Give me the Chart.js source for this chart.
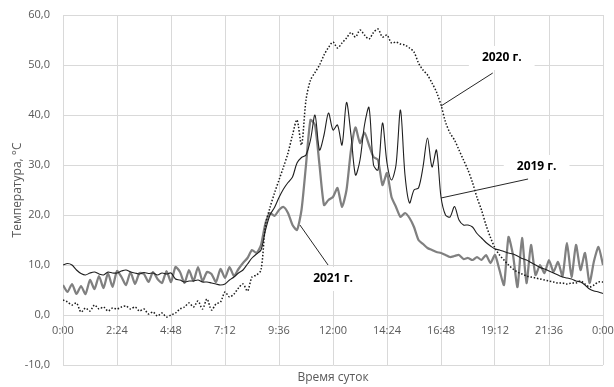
<!DOCTYPE html>
<html>
<head>
<meta charset="utf-8">
<script src="https://cdn.jsdelivr.net/npm/chart.js@4.4.1/dist/chart.umd.min.js"></script>
<style>
    html, body { margin: 0; padding: 0; background: #fff; }
</style>
</head>
<body>
<canvas id="temp-chart" width="614" height="387"></canvas>
<script>
// Time of day, hours (every 12 min)
var times = [];
for (var i = 0; i <= 120; i++) {
    times.push(Math.round(i * 2) / 10);
}

// Air temperature, °C
var t2019 = [
    10, 10.3, 10, 9, 8.3, 8, 8.4, 8.6, 8.2, 8,
    8.6, 8.4, 8.4, 8.8, 9, 8.6, 8.4, 8.2, 8.5, 8.3,
    8.4, 8, 8.4, 8.2, 8.4, 7.2, 7, 6.6, 6.8, 6.8,
    7, 6.6, 6.6, 6.4, 6.2, 6, 6.2, 7, 7.6, 8.4,
    9, 10.2, 11.4, 12.2, 13, 17, 20, 21.5, 23.5, 25.2,
    26.5, 27.6, 30.4, 31.5, 32, 35, 40, 33, 36, 40.4,
    37, 38, 34, 42.5, 36, 28, 31, 38, 41.5, 30,
    29, 38.4, 30.4, 27, 30, 41, 28, 22.4, 25, 25.4,
    29.6, 35.4, 29.6, 33, 23.6, 20, 19.6, 21.7, 19, 18,
    18, 17.6, 16.3, 15.4, 14.5, 13.8, 13.2, 13, 12.7, 12.4,
    12.2, 11.8, 11.3, 11, 10.5, 10, 9.5, 9.2, 8.8, 8.4,
    8, 7.6, 7.4, 7.2, 6.8, 6.6, 6, 5.2, 4.8, 4.6,
    4.3
];
var t2020 = [
    3, 2.6, 2, 2.4, 0.6, 1.4, 0.8, 2, 1.2, 1.6,
    0.8, 1.4, 1.2, 1.6, 1.8, 1.2, 1.6, 0.8, 1.2, 0.2,
    0.6, -0.2, 0.4, -0.4, 0, 0.4, 1.2, 1.6, 2.4, 1.6,
    2.8, 1.2, 3.2, 1, 2.2, 2.6, 4.6, 3.6, 4.2, 5.4,
    6.2, 4.8, 7.6, 8, 9, 18, 21.5, 24.4, 27, 29.6,
    32.4, 36, 39, 34, 43, 47, 48.5, 50, 52, 53.5,
    54.6, 53.4, 54.4, 55.4, 56.5, 55.6, 57, 56, 55.2, 56.5,
    57.2, 55.6, 56, 54.4, 54.6, 54.2, 54, 53.4, 52.6, 50.4,
    49, 48, 46.4, 44.6, 42, 38.6, 36.4, 35, 33, 31,
    29, 26.5, 23.5, 21, 18, 15.5, 13.4, 12, 11, 10,
    9.2, 8.6, 8.2, 7.8, 7.6, 7.4, 7.2, 7, 6.8, 6.6,
    6.4, 6.4, 6.2, 6.4, 6.4, 6.8, 6.2, 5.6, 6, 6.6,
    6.6
];
var t2021 = [
    6, 4.6, 6.2, 4.2, 5.8, 4.2, 7, 5.2, 7.8, 5.4,
    8.4, 5.6, 8.8, 7.6, 6, 8.6, 6.2, 8.4, 8.2, 6.6,
    8.6, 7.2, 6.4, 8.8, 6.6, 9.6, 8.6, 6.4, 9, 6.8,
    9.6, 6.8, 8.6, 8.2, 6.6, 9.2, 7.4, 9.6, 7.8, 9.2,
    10.4, 11.4, 13, 12.4, 14, 18.4, 20.4, 19.8, 21, 21.6,
    20.4, 18, 17, 21, 30, 39, 38, 30, 22, 23,
    23.6, 25.4, 21.6, 25, 33, 37.5, 34.4, 36.5, 34, 31.6,
    31, 26, 28.4, 23.6, 21.6, 19.6, 20.4, 19.4, 17.6, 15,
    14.2, 13.4, 13, 12.6, 12.4, 12, 11.6, 11.8, 12, 11.2,
    11.4, 11, 11.6, 11, 12, 10.4, 12, 9, 6, 15.6,
    12, 5.6, 15.4, 6.4, 14, 8, 10, 8.4, 11, 8.6,
    10.6, 7.8, 14.4, 7.6, 14, 9, 12.4, 6.4, 10.8, 13.6,
    10
];

// Axis ticks
var xTickHours = [0, 2.4, 4.8, 7.2, 9.6, 12, 14.4, 16.8, 19.2, 21.6, 24];
var xTickLabels = ['0:00', '2:24', '4:48', '7:12', '9:36', '12:00', '14:24', '16:48', '19:12', '21:36', '0:00'];
var yTicks = [-10, 0, 10, 20, 30, 40, 50, 60];


function toPoints(vals) {
    return vals.map(function (v, i) {
        return {x: times[i], y: v};
    });
}

// Callout labels with leader lines (in data units)
var callouts = [
    {text: '2020 г.', at: [19.5, 51.4], from: [19.1, 48.4], to: [16.8, 41.8]},
    {text: '2019 г.', at: [21.05, 29.6], from: [20.67, 27.2], to: [16.8, 23.4]},
    {text: '2021 г.', at: [12.0, 7.2], from: [11.78, 10], to: [10.53, 18]}
];
var calloutFont = 'bold 12px "Open Sans"';

var calloutPlugin = {
    id: 'callouts',
    beforeDatasetsDraw: function (chart) {
        var ctx = chart.ctx, xs = chart.scales.x, ys = chart.scales.y;
        ctx.save();
        ctx.font = calloutFont;
        callouts.forEach(function (c) {
            var w = ctx.measureText(c.text).width + 26;
            var cx = xs.getPixelForValue(c.at[0]);
            var cy = ys.getPixelForValue(c.at[1]);
            ctx.fillStyle = '#ffffff';
            ctx.fillRect(cx - w / 2, cy - 12, w, 24);
        });
        ctx.restore();
    },
    afterDatasetsDraw: function (chart) {
        var ctx = chart.ctx, xs = chart.scales.x, ys = chart.scales.y;
        var area = chart.chartArea;
        ctx.save();
        callouts.forEach(function (c) {
            ctx.strokeStyle = '#262626';
            ctx.lineWidth = 1;
            ctx.beginPath();
            ctx.moveTo(xs.getPixelForValue(c.from[0]), ys.getPixelForValue(c.from[1]));
            ctx.lineTo(xs.getPixelForValue(c.to[0]), ys.getPixelForValue(c.to[1]));
            ctx.stroke();
            ctx.font = calloutFont;
            ctx.fillStyle = '#000000';
            ctx.textAlign = 'center';
            ctx.textBaseline = 'middle';
            ctx.fillText(c.text, xs.getPixelForValue(c.at[0]), ys.getPixelForValue(c.at[1]));
        });
        // x axis title, centred under the plot
        ctx.font = '12px "Open Sans"';
        ctx.fillStyle = '#595959';
        ctx.textAlign = 'center';
        ctx.textBaseline = 'middle';
        ctx.fillText('Время суток', (area.left + area.right) / 2, 378);
        ctx.restore();
    }
};

var gridColor = '#d9d9d9';
var tickColor = '#595959';

var ctx1 = document.getElementById('temp-chart').getContext('2d');
var myChart1 = new Chart(ctx1, {
    type: 'line',
    data: {
        datasets: [{
                label: '2020 г.',
                data: toPoints(t2020),
                borderColor: '#1a1a1a',
                borderWidth: 1.5,
                borderDash: [1.5, 1.8],
                pointRadius: 0,
                tension: 0.3,
                order: 1
            },
            {
                label: '2019 г.',
                data: toPoints(t2019),
                borderColor: '#1f1f1f',
                borderWidth: 1.1,
                pointRadius: 0,
                tension: 0.3,
                order: 2
            },
            {
                label: '2021 г.',
                data: toPoints(t2021),
                borderColor: '#808080',
                borderWidth: 2.25,
                pointRadius: 0,
                tension: 0.2,
                order: 3
            }
        ]
    },
    options: {
        responsive: false,
        animation: false,
        layout: {
            padding: {top: 15, right: 11, bottom: 22, left: 0}
        },
        plugins: {
            legend: {display: false},
            tooltip: {enabled: false}
        },
        scales: {
            x: {
                type: 'linear',
                position: {y: 0},
                min: 0,
                max: 24,
                afterBuildTicks: function (scale) {
                    scale.ticks = xTickHours.map(function (v) { return {value: v}; });
                },
                afterFit: function (scale) {
                    scale.paddingLeft = 0;
                    scale.paddingRight = 0;
                },
                ticks: {
                    color: tickColor,
                    font: {family: 'Open Sans', size: 11},
                    padding: 9,
                    maxRotation: 0,
                    autoSkip: false,
                    callback: function (v, i) { return xTickLabels[i]; }
                },
                grid: {color: gridColor, drawTicks: false},
                border: {color: gridColor}
            },
            y: {
                min: -10,
                max: 60,
                afterBuildTicks: function (scale) {
                    scale.ticks = yTicks.map(function (v) { return {value: v}; });
                },
                afterFit: function (scale) {
                    scale.width = 63;
                    scale.paddingTop = 0;
                    scale.paddingBottom = 0;
                },
                ticks: {
                    color: tickColor,
                    font: {family: 'Open Sans', size: 11},
                    padding: 13,
                    callback: function (v) { return v.toFixed(1).replace('.', ','); }
                },
                grid: {color: gridColor, drawTicks: false},
                border: {color: gridColor},
                title: {
                    display: true,
                    text: 'Температура, °C',
                    color: tickColor,
                    font: {family: 'Open Sans', size: 12},
                    padding: {top: 10, bottom: 0}
                }
            }
        }
    },
    plugins: [calloutPlugin]
});
</script>
</body>
</html>
